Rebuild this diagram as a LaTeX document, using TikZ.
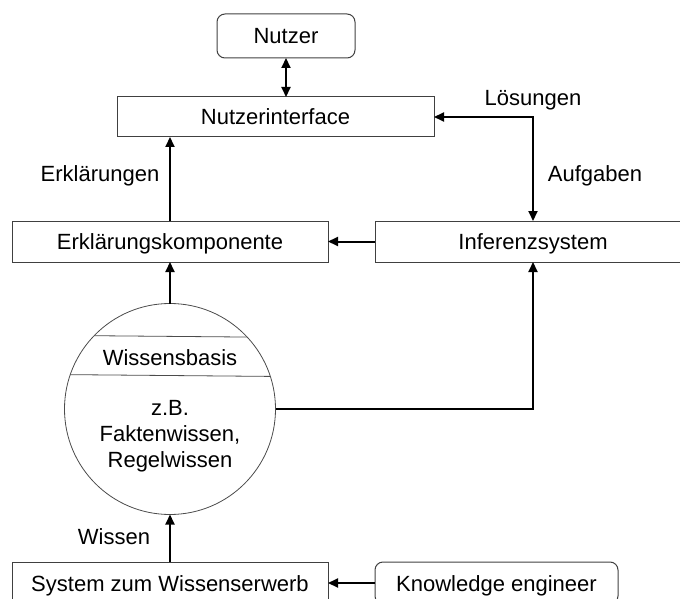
\documentclass[tikz,border=0pt]{standalone}
\usepackage{fontspec}
\setmainfont{Liberation Sans}
\usetikzlibrary{arrows.meta,calc}
\begin{document}
\begin{tikzpicture}[x=1pt,y=-1pt,
  every node/.style={font=\fontsize{22}{26}\selectfont, inner sep=0pt, outer sep=0pt, text height=16pt, text depth=0pt},
  box/.style={draw=black!75, line width=1pt, minimum height=41pt},
  rbox/.style={box, rounded corners=8pt},
  store/.style={circle, draw=black!70, line width=0.8pt, minimum size=211pt},
  flow/.style={line width=2pt, -{Triangle[length=10pt,width=9pt]}},
  biflow/.style={line width=2pt, {Triangle[length=10pt,width=9pt]}-{Triangle[length=10pt,width=9pt]}}
]
\useasboundingbox (0,0) rectangle (680,599);

% components
\node[rbox, minimum width=138pt, minimum height=44pt] (nutzer) at (286,36) {Nutzer};
\node[box, minimum width=317pt, minimum height=40pt] (ui) at (275.5,117) {Nutzerinterface};
\node[box, minimum width=316pt] (erk) at (170,241.5) {Erklärungskomponente};
\node[box, minimum width=316pt] (inf) at (533,241.5) {Inferenzsystem};
\node[store] (kb) at (170,409) {};
\node[box, minimum width=316pt, minimum height=42pt] (sys) at (170,583) {System zum Wissenserwerb};
\node[rbox, minimum width=243pt, minimum height=42pt] (ke) at (496.5,583) {Knowledge engineer};

% knowledge base compartments
\draw[black!70, line width=0.8pt] (kb.136.2) -- (kb.43.8);
\draw[black!70, line width=0.8pt] (kb.161.8) -- (kb.18.2);
\node (kbtitle) at (170,357) {Wissensbasis};
\node (kbl1) at (170,407) {z.B.};
\node (kbl2) at (170,433) {Faktenwissen,};
\node (kbl3) at (170,459) {Regelwissen};

% connectors
\draw[biflow] (nutzer.south) -- (nutzer.south |- ui.north);
\draw[flow] (erk.north) -- (erk.north |- ui.south);
\draw[biflow] (ui.east) -| (inf.north);
\draw[flow] (inf.west) -- (erk.east);
\draw[flow] (kb.north) -- (erk.south);
\draw[flow] (kb.east) -| (inf.south);
\draw[flow] (sys.north) -- (kb.south);
\draw[flow] (ke.west) -- (sys.east);

% connector labels
\node (lErk) at (100,173.5) {Erklärungen};
\node (lAuf) at (595,173.5) {Aufgaben};
\node (lLoe) at (533,98) {Lösungen};
\node (lWis) at (114,536) {Wissen};
\end{tikzpicture}
\end{document}
